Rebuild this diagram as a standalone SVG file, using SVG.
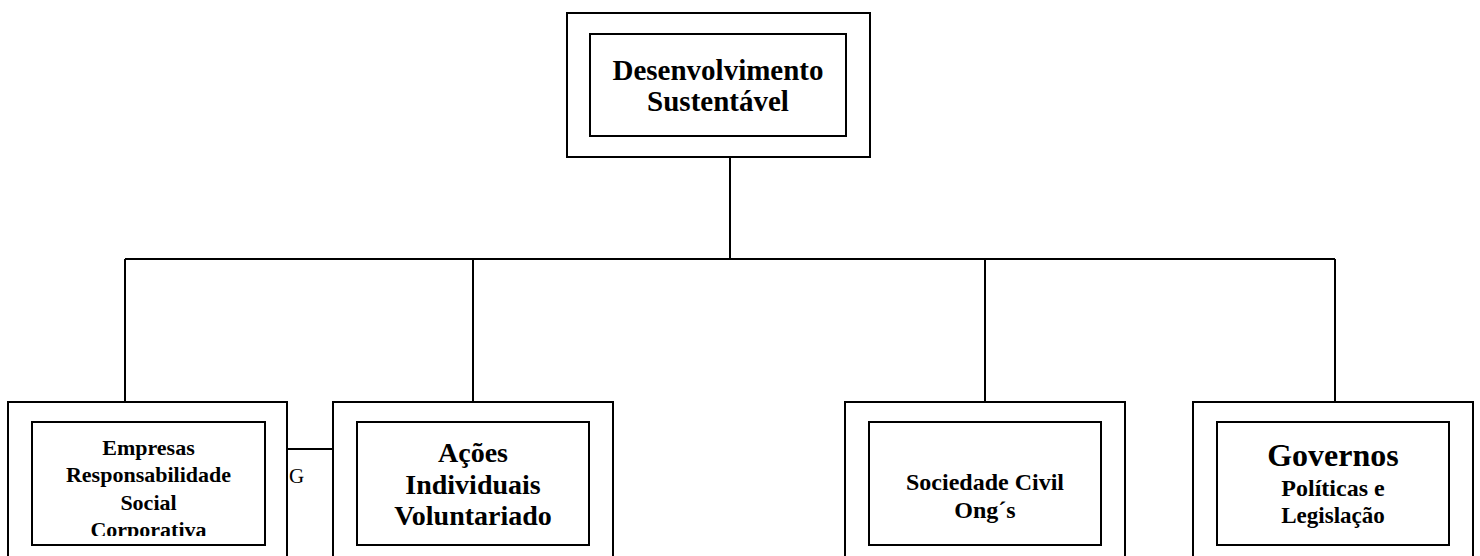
<svg xmlns="http://www.w3.org/2000/svg" width="1480" height="556" viewBox="0 0 1480 556">
<style>
.box{fill:#fff;stroke:#000;stroke-width:2}
.ln{fill:none;stroke:#000;stroke-width:2}
text{font-family:"Liberation Serif","Times New Roman",serif;font-weight:bold;text-anchor:middle;fill:#000}
.g{font-weight:normal;text-anchor:start}
</style>
<defs>
<clipPath id="c1"><rect x="33" y="423" width="231" height="113"/></clipPath>
</defs>
<g id="connectors">
<path class="ln" d="M730 157V259M125 259H1335M125 259V402M473 259V402M985 259V402M1335 259V402M287 449H333"/>
</g>
<g id="n0">
<rect class="box" x="567" y="13" width="303" height="144"/>
<rect class="box" x="590" y="34" width="256" height="102"/>
<text x="718" y="80" font-size="29">Desenvolvimento</text>
<text x="718" y="111" font-size="29">Sustentável</text>
</g>
<g id="n1">
<rect class="box" x="8" y="402" width="279" height="170"/>
<rect class="box" x="32" y="422" width="233" height="123"/>
<g clip-path="url(#c1)">
<text x="148.5" y="455" font-size="22">Empresas</text>
<text x="148.5" y="482" font-size="22">Responsabilidade</text>
<text x="148.5" y="510" font-size="22">Social</text>
<text x="148.5" y="537" font-size="22">Corporativa</text>
</g>
</g>
<g id="n2">
<rect class="box" x="333" y="402" width="280" height="170"/>
<rect class="box" x="357" y="422" width="232" height="123"/>
<text x="473" y="462" font-size="28">Ações</text>
<text x="473" y="494" font-size="28">Individuais</text>
<text x="473" y="525" font-size="28">Voluntariado</text>
</g>
<text class="g" x="289" y="483" font-size="21">G</text>
<g id="n3">
<rect class="box" x="845" y="402" width="280" height="170"/>
<rect class="box" x="869" y="422" width="232" height="123"/>
<text x="985" y="490" font-size="24">Sociedade Civil</text>
<text x="985" y="518" font-size="24">Ong´s</text>
</g>
<g id="n4">
<rect class="box" x="1193" y="402" width="280" height="170"/>
<rect class="box" x="1217" y="422" width="232" height="123"/>
<text x="1333" y="466" font-size="32">Governos</text>
<text x="1333" y="496" font-size="24">Políticas e</text>
<text x="1333" y="523" font-size="23">Legislação</text>
</g>
</svg>
